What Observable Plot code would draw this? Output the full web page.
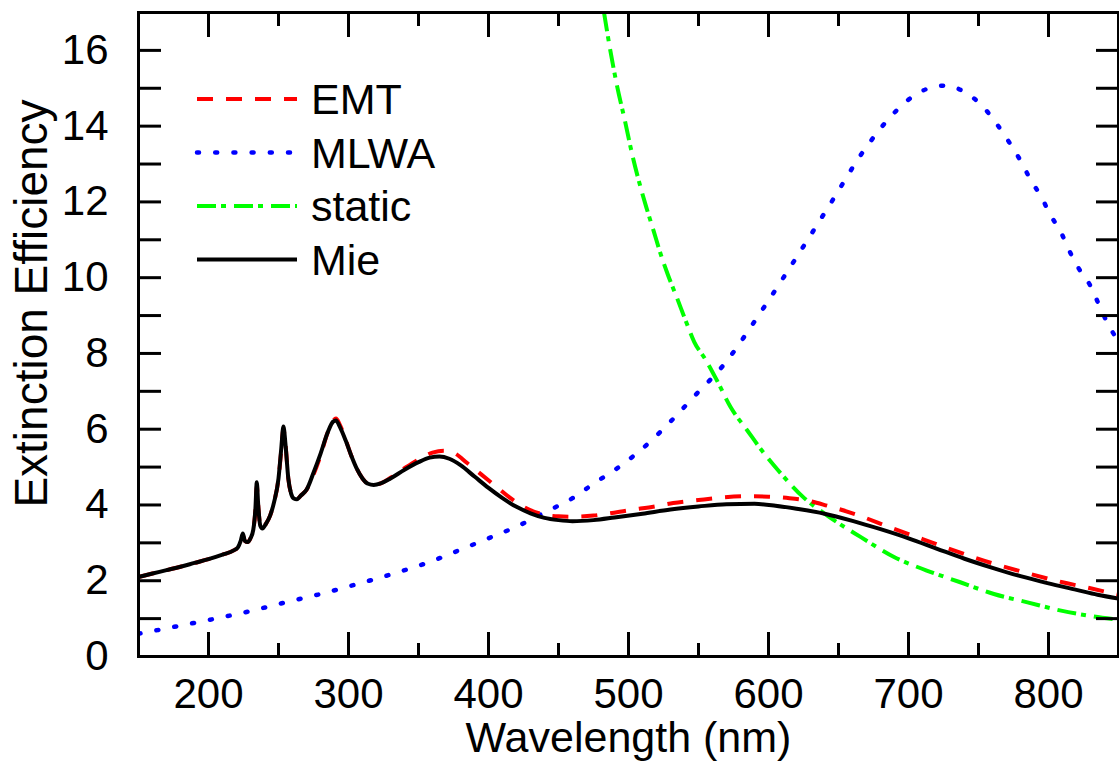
<!DOCTYPE html>
<html>
<head>
<meta charset="utf-8">
<script src="https://cdn.jsdelivr.net/npm/d3@7"></script>
<script src="https://cdn.jsdelivr.net/npm/@observablehq/plot@0.6"></script>
<style>
  html, body { margin: 0; padding: 0; background: #fff; }
  #wrap { position: relative; width: 1119px; height: 778px; font-family: "Liberation Sans", Arial, sans-serif; }
  #legend { position: absolute; left: 0; top: 0; pointer-events: none; }
</style>
</head>
<body>
<div id="wrap"></div>
<script>
// ---- Data ----
const mieWl  = [150,160,170,180,190,200,210,218,221,223,224.5,226,228,230,232,233.5,234.5,235.5,237,238.5,241,244,247,250,252,253.5,255,257,259,261,263,266,270,275,280,285,289,291,294,298,302,306,310,314,318,323,330,340,350,358,365,372,380,390,400,410,420,430,440,450,460,475,490,510,530,550,570,590,605,620,640,660,680,700,720,740,760,780,800,820,835,850];
const mieVal = [2.10,2.19,2.28,2.37,2.47,2.57,2.69,2.80,2.88,3.05,3.25,3.05,3.02,3.12,3.35,3.9,4.6,4.0,3.45,3.38,3.5,3.72,4.1,4.7,5.5,6.07,5.6,4.7,4.3,4.17,4.15,4.25,4.4,4.85,5.35,5.9,6.2,6.23,6.05,5.7,5.3,4.95,4.7,4.56,4.53,4.57,4.7,4.93,5.13,5.25,5.28,5.22,5.05,4.75,4.45,4.18,3.95,3.78,3.66,3.6,3.57,3.6,3.67,3.77,3.88,3.96,4.02,4.03,3.98,3.9,3.77,3.58,3.36,3.12,2.85,2.58,2.34,2.12,1.93,1.76,1.63,1.53];

const emtWl  = [150,160,170,180,190,200,210,218,221,223,224.5,226,228,230,232,233.5,234.5,235.5,237,238.5,241,244,247,250,252,253.5,255,257,259,261,263,266,270,275,280,285,289,291,294,298,302,306,310,314,318,323,330,340,350,360,368,375,385,395,405,415,425,437,450,461,475,485,500,520,532,550,568,585,600,615,630,642,660,689,710,737,760,785,810,830,850];
const emtVal = [2.10,2.19,2.28,2.37,2.47,2.57,2.69,2.80,2.88,3.03,3.2,3.05,3.02,3.12,3.35,3.85,4.5,4.0,3.45,3.38,3.5,3.72,4.1,4.7,5.45,6.0,5.6,4.7,4.3,4.17,4.15,4.25,4.4,4.8,5.3,5.9,6.22,6.28,6.1,5.72,5.3,4.95,4.7,4.56,4.53,4.57,4.72,4.97,5.2,5.38,5.43,5.38,5.1,4.8,4.5,4.2,3.95,3.77,3.7,3.69,3.72,3.77,3.86,3.97,4.05,4.13,4.2,4.23,4.22,4.18,4.1,3.98,3.78,3.38,3.1,2.74,2.46,2.2,1.96,1.8,1.63];

const mlwaWl  = [150,175,205,230,255,280,307,335,359,380,400,423,440,460,475,495,514,530,547,568,595,619,644,668,688,700,713,727,740,753,763,772,780,787,795,801,809,815,822,830,836,842,850];
const mlwaVal = [0.6,0.78,1.0,1.2,1.43,1.65,1.92,2.22,2.51,2.82,3.12,3.48,3.8,4.18,4.56,5.05,5.62,6.2,6.87,7.7,9.12,10.48,11.94,13.35,14.28,14.7,14.98,15.07,14.9,14.52,14.06,13.57,13.09,12.6,12.12,11.68,11.19,10.7,10.22,9.78,9.29,8.81,8.32];

const staticWl  = [482.5,487,492,497.4,502.6,507.7,512.8,518,523,528,534.6,541,547,555,563,573,585,595,607,625,642,666,690,713,737,761,785,809,830,850];
const staticVal = [17.0,16.0,15.03,14.15,13.26,12.51,11.85,11.23,10.62,10.09,9.47,8.85,8.3,7.84,7.3,6.58,5.96,5.45,4.91,4.2,3.72,3.15,2.62,2.27,1.96,1.65,1.43,1.21,1.07,0.97];

const seriesNames = ["EMT", "MLWA", "static", "Mie"];
const seriesColors = ["#ff0000", "#0000ff", "#00ff00", "#000000"];
const seriesDash = ["16,13", "2,16.2", "19,5,5,8", null];
const seriesCap = ["butt", "round", "butt", "butt"];

const xMajor = [200, 300, 400, 500, 600, 700, 800];
const xMinor = [150, 250, 350, 450, 550, 650, 750, 850];
const yTicks = d3.range(1, 17, 1);
const yLabels = [0, 2, 4, 6, 8, 10, 12, 14, 16];

const xLabel = "Wavelength (nm)";
const yLabel = "Extinction Efficiency";

// ---- Build tables ----
const toRows = (wl, v) => wl.map((w, i) => ({x: w, y: v[i]}));
const tables = [toRows(emtWl, emtVal), toRows(mlwaWl, mlwaVal), toRows(staticWl, staticVal), toRows(mieWl, mieVal)];

const FONT = "Liberation Sans, Arial, sans-serif";
const W = 1119, H = 778;
const mL = 138, mR = 1, mT = 12, mB = 122;

const lineMarks = tables.map((rows, i) => Plot.line(rows, {
  x: "x", y: "y", stroke: seriesColors[i], strokeWidth: i === 1 ? 4.5 : 4,
  strokeDasharray: seriesDash[i], strokeLinecap: seriesCap[i], curve: "monotone-x", clip: true
}));

const blank = () => "";
const chart = Plot.plot({
  width: W, height: H,
  marginLeft: mL, marginRight: mR, marginTop: mT, marginBottom: mB,
  style: {fontFamily: FONT, background: "#fff", color: "#000", overflow: "visible"},
  x: {domain: [150, 850]},
  y: {domain: [0, 17]},
  marks: [
    // order: MLWA, static, EMT, Mie so black sits on top
    lineMarks[1], lineMarks[2], lineMarks[0], lineMarks[3],
    // tick marks (inward) on all four sides
    Plot.axisX(xMajor, {anchor: "bottom", tickSize: -24, strokeWidth: 3, tickFormat: blank, label: null}),
    Plot.axisX(xMinor, {anchor: "bottom", tickSize: -13, strokeWidth: 3, tickFormat: blank, label: null}),
    Plot.axisX(xMajor, {anchor: "top", tickSize: -24, strokeWidth: 3, tickFormat: blank, label: null}),
    Plot.axisX(xMinor, {anchor: "top", tickSize: -13, strokeWidth: 3, tickFormat: blank, label: null}),
    Plot.axisY(yTicks, {anchor: "left", tickSize: -23, strokeWidth: 3, tickFormat: blank, label: null}),
    Plot.axisY(yTicks, {anchor: "right", tickSize: -23, strokeWidth: 3, tickFormat: blank, label: null}),
    // tick labels
    Plot.axisX(xMajor, {anchor: "bottom", tickSize: 0, tickPadding: 22, fontSize: 42, label: null}),
    Plot.axisY(yLabels, {anchor: "left", tickSize: 0, tickPadding: 30, fontSize: 42, label: null}),
    // axis titles
    Plot.text([xLabel], {frameAnchor: "bottom", lineAnchor: "middle", textAnchor: "middle", dy: 82, fontSize: 43, fill: "#000"}),
    Plot.text([yLabel], {frameAnchor: "left", lineAnchor: "middle", textAnchor: "middle", dx: -106, dy: -31, rotate: -90, fontSize: 46, fill: "#000"}),
    Plot.frame({stroke: "#000", strokeWidth: 3})
  ]
});

const wrap = document.getElementById("wrap");
wrap.appendChild(chart);

// ---- Legend (overlay, inside plot area, top-left) ----
const leg = d3.select(wrap).append("svg")
  .attr("id", "legend").attr("width", W).attr("height", H);
const legX1 = 197, legX2 = 297, legTextX = 311, legY0 = 99, legStep = 53.5;
seriesNames.forEach((name, i) => {
  const y = legY0 + i * legStep;
  leg.append("line")
    .attr("x1", legX1).attr("x2", legX2).attr("y1", y).attr("y2", y)
    .attr("stroke", seriesColors[i]).attr("stroke-width", i === 1 ? 4.5 : 4)
    .attr("stroke-dasharray", seriesDash[i]).attr("stroke-linecap", seriesCap[i]);
  leg.append("text")
    .attr("x", legTextX).attr("y", y).attr("dy", "0.36em")
    .attr("font-family", FONT).attr("font-size", 43).attr("fill", "#000")
    .text(name);
});
</script>
</body>
</html>
